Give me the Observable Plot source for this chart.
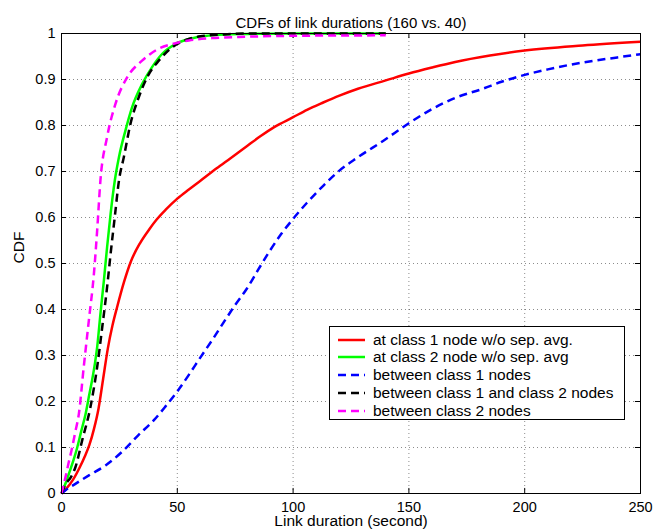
<!DOCTYPE html>
<html>
<head>
<meta charset="utf-8">
<script src="https://cdn.jsdelivr.net/npm/d3@7"></script>
<script src="https://cdn.jsdelivr.net/npm/@observablehq/plot@0.6"></script>
<style>
  html, body { margin: 0; padding: 0; background: #fff; }
  #wrap { position: relative; width: 669px; height: 529px; overflow: hidden; font-family: "Liberation Sans", Arial, Helvetica, sans-serif; }
  #legend { position: absolute; left: 329px; top: 326px; width: 296px; height: 94px; border: 1px solid #000; background: #fff; box-sizing: border-box; }
  .row { position: absolute; left: 0; height: 18px; width: 100%; font-size: 15.5px; line-height: 18px; color: #000; }
  .row svg { position: absolute; left: 8px; top: 7px; }
  .row span { position: absolute; left: 43px; top: 0; white-space: nowrap; }
</style>
</head>
<body>
<div id="wrap"></div>
<script>
// ---- data ----
const titleText = "CDFs of link durations (160 vs. 40)";
const xLabel = "Link duration (second)";
const yLabel = "CDF";
const xTicks = [0, 50, 100, 150, 200, 250];
const yTicks = [0, 0.1, 0.2, 0.3, 0.4, 0.5, 0.6, 0.7, 0.8, 0.9, 1];

const seriesNames = [
  "at class 1 node w/o sep. avg.",
  "at class 2 node w/o sep. avg",
  "between class 1 nodes",
  "between class 1 and class 2 nodes",
  "between class 2 nodes"
];
const seriesColors = ["#ff0000", "#00ff00", "#0000ff", "#000000", "#ff00ff"];
const seriesDashed = [false, false, true, true, true];

const redX = [0, 2, 5, 8, 10, 12, 14, 16, 18, 20, 22, 24, 27, 30, 34, 38, 41, 45, 50, 55, 60, 67, 73, 80, 86, 92, 100, 106, 113, 120, 128, 140, 150, 160, 170, 185, 200, 225, 250];
const redY = [0, 0.01, 0.03, 0.058, 0.08, 0.105, 0.14, 0.185, 0.25, 0.315, 0.365, 0.405, 0.46, 0.505, 0.545, 0.575, 0.595, 0.617, 0.641, 0.661, 0.68, 0.707, 0.729, 0.755, 0.777, 0.797, 0.818, 0.834, 0.85, 0.865, 0.88, 0.898, 0.913, 0.926, 0.938, 0.952, 0.963, 0.974, 0.982];

const greenX = [0, 1, 3.2, 5, 6.8, 8.5, 10.4, 12, 13.2, 14.5, 15.4, 16.8, 18.3, 19.7, 21.2, 23, 24.8, 27.6, 30.5, 34.8, 39.1, 43.5, 49.2, 55, 60, 65, 70, 80, 100, 140];
const greenY = [0, 0.012, 0.043, 0.07, 0.1, 0.135, 0.173, 0.215, 0.246, 0.285, 0.318, 0.39, 0.463, 0.536, 0.608, 0.68, 0.731, 0.789, 0.84, 0.89, 0.927, 0.956, 0.977, 0.988, 0.993, 0.996, 0.998, 0.999, 1, 1];

const blueX = [0, 2, 6, 12, 19, 26, 33, 40, 45, 50, 55, 60, 65, 70, 75, 80, 85, 90, 95, 100, 106, 113, 120, 128, 139, 150, 159, 170, 182, 190, 200, 210, 225, 240, 250];
const blueY = [0, 0.008, 0.021, 0.04, 0.061, 0.09, 0.126, 0.16, 0.19, 0.222, 0.258, 0.296, 0.333, 0.372, 0.41, 0.445, 0.487, 0.528, 0.565, 0.597, 0.632, 0.669, 0.702, 0.731, 0.767, 0.805, 0.833, 0.86, 0.88, 0.895, 0.91, 0.922, 0.937, 0.948, 0.955];

const blackX = [0, 1.7, 4, 6, 8.9, 12.5, 15.4, 17.6, 19.7, 21.2, 23, 24.8, 26.9, 29.8, 33.4, 37, 42, 47.8, 55, 60, 70, 80, 100, 140];
const blackY = [0, 0.02, 0.035, 0.057, 0.115, 0.188, 0.275, 0.362, 0.449, 0.521, 0.601, 0.68, 0.731, 0.804, 0.862, 0.905, 0.941, 0.97, 0.988, 0.994, 0.998, 1, 1, 1];

const magentaX = [0, 1.7, 3, 4.6, 6, 7.5, 9.6, 11.8, 14, 15.4, 16.8, 19.7, 23.3, 28.4, 34.8, 42, 47.8, 55, 65, 80, 100, 140];
const magentaY = [0, 0.035, 0.065, 0.1, 0.135, 0.173, 0.275, 0.376, 0.478, 0.572, 0.68, 0.775, 0.847, 0.905, 0.941, 0.967, 0.977, 0.985, 0.99, 0.993, 0.995, 0.996];

// ---- build ----
const seriesXY = [[redX, redY], [greenX, greenY], [blueX, blueY], [blackX, blackY], [magentaX, magentaY]];
const font = "'Liberation Sans', Arial, Helvetica, sans-serif";

const lineMarks = seriesXY.map(([xs, ys], i) =>
  Plot.line(xs.map((x, j) => ({x, y: ys[j]})), {
    x: "x", y: "y",
    stroke: seriesColors[i],
    strokeWidth: 2.5,
    strokeDasharray: seriesDashed[i] ? "8,5" : null,
    curve: "monotone-x",
    strokeLinecap: "butt",
    strokeLinejoin: "round"
  })
);

const chart = Plot.plot({
  width: 669,
  height: 529,
  marginLeft: 61,
  marginRight: 29,
  marginTop: 33,
  marginBottom: 36,
  style: {fontFamily: font, fontSize: "15px", background: "#fff", overflow: "visible", color: "#000"},
  x: {domain: [0, 250]},
  y: {domain: [0, 1]},
  marks: [
    Plot.gridX(xTicks, {stroke: "#000", strokeOpacity: 0.45, strokeDasharray: "1,3"}),
    Plot.gridY(yTicks, {stroke: "#000", strokeOpacity: 0.45, strokeDasharray: "1,3"}),
    Plot.ruleX(xTicks, {y1: 0, y2: 0.011, stroke: "#000"}),
    Plot.ruleX(xTicks, {y1: 0.989, y2: 1, stroke: "#000"}),
    Plot.ruleY(yTicks, {x1: 0, x2: 2.2, stroke: "#000"}),
    Plot.ruleY(yTicks, {x1: 247.8, x2: 250, stroke: "#000"}),
    ...lineMarks,
    Plot.frame({stroke: "#000"}),
    Plot.axisX(xTicks, {tickSize: 0, tickPadding: 8, fontSize: 14.5, label: null, tickFormat: d => String(d)}),
    Plot.axisY(yTicks, {tickSize: 0, tickPadding: 6, fontSize: 14.5, label: null, tickFormat: d => String(d)}),
    Plot.text([titleText], {frameAnchor: "top", dy: -16.5, fontSize: 15, text: d => d}),
    Plot.text([xLabel], {frameAnchor: "bottom", dy: 32.5, fontSize: 15.5, text: d => d}),
    Plot.text([yLabel], {frameAnchor: "left", dx: -42, rotate: -90, fontSize: 15.5, text: d => d})
  ]
});

const wrap = document.getElementById("wrap");
wrap.appendChild(chart);

const legend = document.createElement("div");
legend.id = "legend";
const rowCenters = [13, 30, 48, 66, 84];
seriesNames.forEach((name, i) => {
  const row = document.createElement("div");
  row.className = "row";
  row.style.top = (rowCenters[i] - 9) + "px";
  const dash = seriesDashed[i] ? 'stroke-dasharray="8,5"' : "";
  row.innerHTML = `<svg width="27" height="4"><line x1="0" y1="2" x2="27" y2="2" stroke="${seriesColors[i]}" stroke-width="2.5" ${dash}/></svg><span>${name}</span>`;
  legend.appendChild(row);
});
wrap.appendChild(legend);
</script>
</body>
</html>
